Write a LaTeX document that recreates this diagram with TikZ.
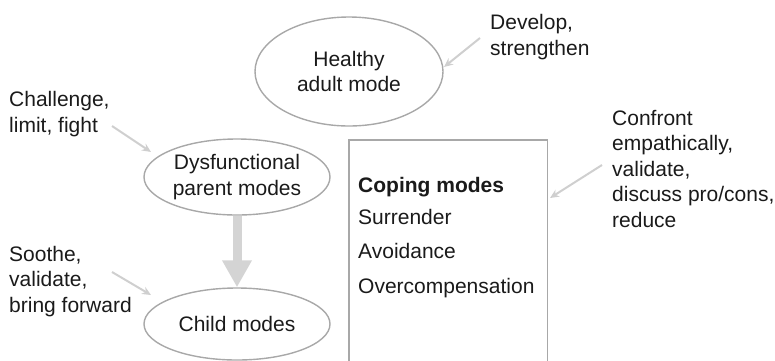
\documentclass[tikz,border=0pt]{standalone}
\usepackage{fontspec}
\setmainfont{Liberation Sans}
\usetikzlibrary{shapes.geometric,arrows.meta}
\definecolor{edgegray}{HTML}{A8A8A8}
\definecolor{arrowgray}{HTML}{D4D4D4}
\definecolor{thingray}{HTML}{CFCFCF}
\definecolor{txt}{HTML}{1A1A1A}
\begin{document}
\begin{tikzpicture}[x=1pt,y=-1pt,
  every node/.style={font=\fontsize{21}{25.5}\selectfont, text=txt},
  modeell/.style={ellipse, draw=edgegray, line width=1.4pt, inner sep=0pt, align=center},
  lbl/.style={anchor=base west, align=left, inner sep=0pt},
  thinarrow/.style={draw=thingray, line width=2pt, -{Stealth[length=9pt,width=8pt]}},
  boxline/.style={draw=edgegray, line width=1.4pt}]
\useasboundingbox (0,0) rectangle (775,360);
% ellipses
\node[modeell, minimum width=188pt, minimum height=109pt] (healthy) at (349,71.5) {Healthy\\adult mode};
\node[modeell, minimum width=186pt, minimum height=76pt] (dysf) at (237,177) {Dysfunctional\\parent modes};
\node[modeell, minimum width=186pt, minimum height=72pt] (child) at (237,324) {Child modes};
% coping box
\node[minimum width=198pt, minimum height=221pt, anchor=north west, inner sep=0pt] (box) at (349,140) {};
\draw[boxline] (box.south west) -- (box.north west) -- (box.north east) -- (box.south east);
\node[lbl] (coping) at (358,192) {\textbf{Coping modes}};
\node[lbl] (surr) at (358,224) {Surrender};
\node[lbl] (avoid) at (358,258) {Avoidance};
\node[lbl] (over) at (358,293) {Overcompensation};
% labels (anchored at the baseline of their last line)
\node[lbl] (develop) at (490,55) {Develop,\\strengthen};
\node[lbl] (confront) at (612,227) {Confront\\empathically,\\validate,\\discuss pro/cons,\\reduce};
\node[lbl] (challenge) at (9,132) {Challenge,\\limit, fight};
\node[lbl] (soothe) at (9,312) {Soothe,\\validate,\\bring forward};
% thin arrows
\coordinate (dA) at (480,38);
\coordinate (dB) at (444,67);
\coordinate (cA) at (602,165);
\coordinate (cB) at (550,198);
\coordinate (chA) at (112,126);
\coordinate (chB) at (151,152);
\coordinate (sA) at (112,272);
\coordinate (sB) at (151,295);
\draw[thinarrow] (dA) -- (dB);
\draw[thinarrow] (cA) -- (cB);
\draw[thinarrow] (chA) -- (chB);
\draw[thinarrow] (sA) -- (sB);
% thick arrow
\draw[arrowgray, line width=9pt, -{Triangle[length=27pt,width=28pt]}] (dysf.south) -- (child.north);
\end{tikzpicture}
\end{document}
